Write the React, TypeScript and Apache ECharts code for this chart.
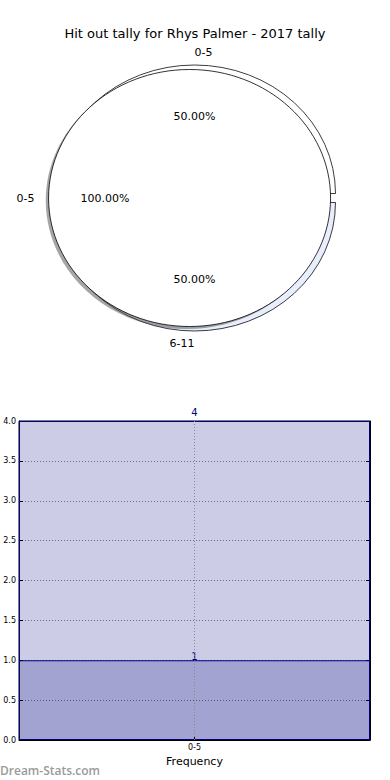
import React, { useEffect, useRef } from "react";
import * as echarts from "echarts";

// ---- data ----
const titleText = "Hit out tally for Rhys Palmer - 2017 tally";
const pieACategories = ["0-5", "6-11"];
const pieAValues = [1, 1];
const pieBCategories = ["0-5"];
const pieBValues = [1];
const barCategories = ["0-5"];
const barTotal = [4];
const barFrequency = [1];
const yTicks = [0, 0.5, 1, 1.5, 2, 2.5, 3, 3.5, 4];

// ---- styles / layout ----
const pieAColors = ["#ffffff", "#e8eefc"];
const pieBColors = ["#ffffff"];
const CX = 194.5;
const CY = 198;
const RX = 141;
const RY = 128.5;
const FONT = "DejaVu Sans";

function makePieRender(
  values: number[],
  cats: string[],
  colors: string[],
  explode: number,
  shadow: boolean,
  mode: "shapes" | "labels"
) {
  const total = values.reduce((a, b) => a + b, 0);
  return (params: any, api: any) => {
    const i = params.dataIndex;
    const v = api.value(0) as number;
    let a0 = 0;
    for (let j = 0; j < i; j++) a0 += (values[j] / total) * Math.PI * 2;
    const frac = v / total;
    const a1 = a0 + frac * Math.PI * 2;
    const mid = (a0 + a1) / 2;
    const cx = CX + explode * RX * Math.cos(mid);
    const cy = CY - explode * RY * Math.sin(mid);
    const children: any[] = [];
    if (mode === "shapes") {
      const mkShape = (ox: number, oy: number, style: any) => {
        if (frac >= 0.9999) {
          return { type: "ellipse", shape: { cx: cx + ox, cy: cy + oy, rx: RX, ry: RY }, style };
        }
        return {
          type: "sector",
          x: cx + ox,
          y: cy + oy,
          scaleY: RY / RX,
          shape: { cx: 0, cy: 0, r: RX, r0: 0, startAngle: -a1, endAngle: -a0, clockwise: true },
          style,
        };
      };
      if (shadow) {
        children.push(mkShape(-2.8, 2.6, { fill: "rgba(77,77,77,0.5)", stroke: "none" }));
      }
      children.push(mkShape(0, 0, { fill: colors[i % colors.length], stroke: "#000", lineWidth: 0.8 }));
    } else {
      const c = Math.cos(mid);
      const s = Math.sin(mid);
      children.push({
        type: "text",
        style: {
          x: cx + 1.1 * RX * c,
          y: cy - 1.1 * RY * s,
          text: cats[i],
          align: c > 0 ? "left" : "right",
          verticalAlign: "middle",
          fontSize: 11,
          fontFamily: FONT,
          fill: "#000",
        },
      });
      children.push({
        type: "text",
        style: {
          x: cx + 0.6 * RX * c,
          y: cy - 0.6 * RY * s,
          text: (frac * 100).toFixed(2) + "%",
          align: "center",
          verticalAlign: "middle",
          fontSize: 11,
          fontFamily: FONT,
          fill: "#000",
        },
      });
    }
    return { type: "group", children };
  };
}

export default function App() {
  const ref = useRef<HTMLDivElement>(null);
  useEffect(() => {
    if (!ref.current) return;
    const chart = echarts.init(ref.current, undefined, { renderer: "svg" });
    const barStyle = {
      color: "rgba(0,0,128,0.2)",
      borderColor: "#000080",
      borderWidth: 1,
    };
    const pieAData = pieAValues.map((v, i) => ({ name: pieACategories[i], value: v }));
    const pieBData = pieBValues.map((v, i) => ({ name: pieBCategories[i], value: v }));
    chart.setOption({
      animation: false,
      backgroundColor: "#ffffff",
      title: {
        text: titleText,
        left: "center",
        top: 22,
        textStyle: { fontFamily: FONT, fontSize: 13, fontWeight: "normal", color: "#000" },
      },
      grid: {
        left: 19,
        right: 20,
        top: 421,
        height: 319,
        show: true,
        borderColor: "#000",
        borderWidth: 1,
        backgroundColor: "transparent",
      },
      xAxis: {
        type: "category",
        data: barCategories,
        axisLine: { show: true, lineStyle: { color: "#000" } },
        axisTick: { show: true, inside: true, alignWithLabel: true, length: 4, lineStyle: { color: "#000" } },
        axisLabel: { fontSize: 8, color: "#000", fontFamily: FONT, margin: 3 },
        splitLine: { show: false },
        name: "Frequency",
        nameLocation: "middle",
        nameGap: 16,
        nameTextStyle: { fontSize: 11, color: "#000", fontFamily: FONT },
      },
      yAxis: [
        {
          type: "value",
          min: 0,
          max: 4,
          interval: 0.5,
          axisLine: { show: true, lineStyle: { color: "#000" } },
          axisTick: { show: true, inside: true, length: 4, lineStyle: { color: "#000" } },
          axisLabel: {
            fontSize: 8,
            color: "#000",
            fontFamily: FONT,
            margin: 3,
            formatter: (v: number) => (yTicks.includes(v) ? v.toFixed(1) : ""),
          },
          splitLine: { show: true, lineStyle: { type: [1, 2], color: "#888", width: 1 } },
        },
        {
          type: "value",
          min: 0,
          max: 4,
          interval: 0.5,
          position: "right",
          axisLine: { show: true, lineStyle: { color: "#000" } },
          axisTick: { show: true, inside: true, length: 4, lineStyle: { color: "#000" } },
          axisLabel: { show: false },
          splitLine: { show: false },
        },
      ],
      series: [
        {
          type: "custom",
          coordinateSystem: "none",
          silent: true,
          renderItem: makePieRender(pieAValues, pieACategories, pieAColors, 0.035, false, "shapes"),
          data: pieAData,
          z: 2,
        },
        {
          type: "custom",
          coordinateSystem: "none",
          silent: true,
          renderItem: makePieRender(pieBValues, pieBCategories, pieBColors, 0.035, true, "shapes"),
          data: pieBData,
          z: 3,
        },
        {
          type: "custom",
          coordinateSystem: "none",
          silent: true,
          renderItem: makePieRender(pieAValues, pieACategories, pieAColors, 0.035, false, "labels"),
          data: pieAData,
          z: 4,
        },
        {
          type: "custom",
          coordinateSystem: "none",
          silent: true,
          renderItem: makePieRender(pieBValues, pieBCategories, pieBColors, 0.035, true, "labels"),
          data: pieBData,
          z: 4,
        },
        {
          type: "bar",
          name: "Total",
          barWidth: "100%",
          barGap: "-100%",
          itemStyle: barStyle,
          label: {
            show: true,
            position: "top",
            distance: 4,
            color: "#000080",
            fontSize: 10,
            fontFamily: FONT,
          },
          data: barTotal,
        },
        {
          type: "bar",
          name: "Frequency",
          barWidth: "100%",
          barGap: "-100%",
          itemStyle: barStyle,
          label: {
            show: true,
            position: "top",
            distance: -1,
            color: "#000080",
            fontSize: 10,
            fontFamily: FONT,
          },
          data: barFrequency,
          markLine: {
            silent: true,
            symbol: "none",
            label: { show: false },
            lineStyle: { type: [1, 2], color: "#888", width: 1 },
            data: [{ xAxis: 0 }],
          },
        },
      ],
      graphic: [
        {
          type: "text",
          left: 0,
          top: 764,
          style: {
            text: "Dream-Stats.com",
            fontSize: 12,
            fontFamily: "Open Sans",
            fontWeight: 600,
            fill: "#9a9a9a",
          },
        },
      ],
    });
    return () => chart.dispose();
  }, []);
  return (
    <div
      ref={ref}
      style={{ position: "fixed", left: 0, top: 0, width: 390, height: 780 }}
    />
  );
}
